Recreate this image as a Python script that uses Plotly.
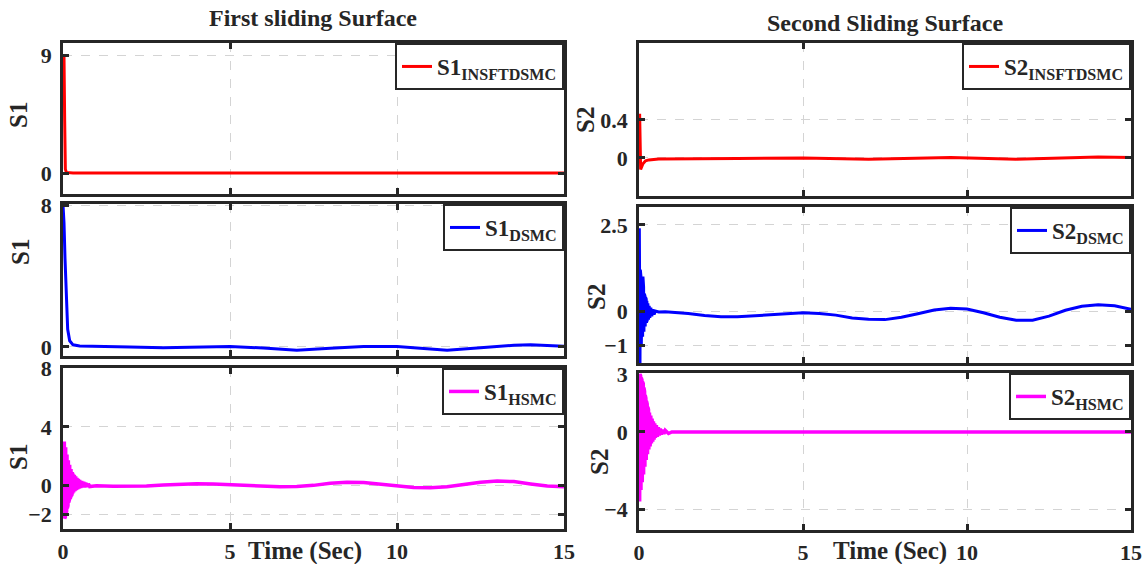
import plotly.graph_objects as go

FONT = "Liberation Serif, Times New Roman, serif"
AX = "#262626"
GRID = "#d4d4d4"

# ---------------- data ----------------
# First sliding surface, INSFTDSMC (red)
t_s1_insft = [0, 0.03, 0.05, 0.07, 0.1, 0.3, 1, 3, 5, 7, 9, 11, 13, 15]
s1_insft = [9.0, 8.9, 4.0, 0.3, 0.05, 0.0, 0.0, 0.0, 0.0, -0.02, 0.0, -0.02, 0.01, 0.0]

# Second sliding surface, INSFTDSMC (red)
t_s2_insft = [0, 0.02, 0.05, 0.08, 0.12, 0.2, 0.3, 0.6, 1.5, 3, 5, 7, 9.5, 11.5, 14, 15]
s2_insft = [0.45, 0.45, -0.12, -0.1, -0.06, -0.03, -0.02, -0.01, -0.01, -0.005, 0.0, -0.012,
            0.005, -0.012, 0.01, 0.005]

# First sliding surface, DSMC (blue)
t_s1_dsmc = [0, 0.03, 0.06, 0.1, 0.14, 0.2, 0.3, 0.5, 1, 2, 3, 4, 5, 6, 7, 8, 9, 10,
             11, 11.5, 12.5, 13.5, 14, 15]
s1_dsmc = [8.0, 7.0, 5.0, 2.5, 1.0, 0.35, 0.12, 0.06, 0.05, 0.0, -0.05, -0.01, 0.02,
           -0.06, -0.18, -0.08, 0.02, 0.02, -0.12, -0.18, -0.05, 0.1, 0.12, 0.04]

# Second sliding surface, DSMC (blue)
t_s2_dsmc = [0, 0.01, 0.02, 0.03, 0.04, 0.05, 0.06, 0.07, 0.08, 0.09, 0.10, 0.11, 0.12,
             0.13, 0.14, 0.15, 0.16, 0.17, 0.18, 0.19, 0.20, 0.21, 0.22, 0.23, 0.24, 0.25,
             0.27, 0.29, 0.31, 0.33, 0.36, 0.39, 0.42, 0.46, 0.5, 0.6, 0.8, 1.0, 1.5, 2.0,
             2.5, 3.0, 3.5, 4.0, 4.5, 5.0, 5.5, 6.0, 6.5, 7.0, 7.5, 8.0, 8.5, 9.0, 9.5,
             10.0, 10.5, 11.0, 11.5, 12.0, 12.5, 13.0, 13.5, 14.0, 14.5, 15.0]
s2_dsmc = [0.2, 2.4, 0.5, -1.6, 1.2, -1.55, 1.0, -1.0, 1.0, -0.8, 1.0, -0.75, 1.0,
           -0.7, 0.7, -0.6, 0.5, -0.5, 0.45, -0.45, 0.4, -0.4, 0.35, -0.35, 0.3, -0.3,
           0.22, -0.25, 0.15, -0.2, 0.1, -0.15, 0.05, -0.1, 0.0, -0.03, -0.02, -0.03,
           -0.07, -0.13, -0.17, -0.17, -0.14, -0.1, -0.06, -0.05, -0.07, -0.12, -0.2,
           -0.24, -0.25, -0.18, -0.08, 0.03, 0.08, 0.06, -0.05, -0.18, -0.27, -0.27,
           -0.15, 0.02, 0.14, 0.18, 0.15, 0.05]

# First sliding surface, HSMC (magenta)
t_s1_hsmc = [0, 0.01, 0.02, 0.03, 0.04, 0.05, 0.06, 0.07, 0.08, 0.09, 0.10, 0.11, 0.12,
             0.13, 0.14, 0.15, 0.16, 0.17, 0.18, 0.19, 0.20, 0.21, 0.22, 0.23, 0.24, 0.25,
             0.26, 0.27, 0.28, 0.29, 0.30, 0.32, 0.34, 0.36, 0.38, 0.40, 0.42, 0.44, 0.46,
             0.48, 0.50, 0.53, 0.56, 0.59, 0.62, 0.65, 0.68, 0.72, 0.76, 0.8, 1.0, 1.5,
             2.0, 2.5, 3.0, 3.5, 4.0, 4.5, 5.0, 5.5, 6.0, 6.5, 7.0, 7.5, 8.0, 8.5, 9.0,
             9.5, 10.0, 10.5, 11.0, 11.5, 12.0, 12.5, 13.0, 13.5, 14.0, 14.5, 15.0]
s1_hsmc = [2.0, -1.0, 2.8, -2.0, 3.0, -2.3, 2.8, -2.2, 2.6, -2.0, 2.3, -1.8, 2.1,
           -1.6, 1.9, -1.4, 1.7, -1.2, 1.55, -1.05, 1.4, -0.95, 1.25, -0.85, 1.1, -0.75,
           1.0, -0.65, 0.9, -0.6, 0.8, -0.5, 0.7, -0.42, 0.6, -0.35, 0.5, -0.3, 0.42,
           -0.25, 0.35, -0.2, 0.28, -0.17, 0.22, -0.15, 0.15, -0.12, 0.08, -0.1, -0.05,
           -0.08, -0.1, -0.06, 0.0, 0.05, 0.09, 0.07, 0.03, -0.04, -0.1, -0.12, -0.1,
           -0.02, 0.12, 0.2, 0.17, 0.06, -0.08, -0.17, -0.18, -0.12, 0.04, 0.2, 0.28,
           0.24, 0.08, -0.06, -0.12]

# Second sliding surface, HSMC (magenta)
t_s2_hsmc = [0, 0.01, 0.02, 0.03, 0.04, 0.05, 0.06, 0.07, 0.08, 0.09, 0.10, 0.11, 0.12,
             0.13, 0.14, 0.15, 0.16, 0.17, 0.18, 0.19, 0.20, 0.21, 0.22, 0.23, 0.24, 0.25,
             0.26, 0.27, 0.28, 0.29, 0.30, 0.32, 0.34, 0.36, 0.38, 0.40, 0.42, 0.44, 0.46,
             0.48, 0.50, 0.53, 0.56, 0.59, 0.62, 0.65, 0.68, 0.72, 0.76, 0.8, 0.9, 1.0,
             2.0, 3.0, 4.0, 5.0, 6.0, 7.0, 8.0, 9.0, 10.0, 11.0, 12.0, 13.0, 14.0, 15.0]
s2_hsmc = [0.0, 2.6, -3.6, 3.0, -3.3, 2.9, -3.0, 2.8, -2.8, 2.7, -2.6, 2.6, -2.4,
           2.5, -2.2, 2.3, -2.0, 2.1, -1.8, 1.9, -1.6, 1.75, -1.45, 1.6, -1.3, 1.45,
           -1.15, 1.3, -1.0, 1.15, -0.9, 1.0, -0.75, 0.85, -0.6, 0.7, -0.5, 0.55, -0.4,
           0.45, -0.3, 0.35, -0.25, 0.25, -0.18, 0.18, -0.13, 0.12, -0.1, 0.08, -0.08,
           0.0, 0.0, 0.0, 0.0, 0.0, 0.0, 0.0, 0.0, 0.0, 0.0, 0.0, 0.0, 0.0, 0.0, 0.0]

x_ticks = [0, 5, 10, 15]
titles = ["First sliding Surface", "Second Sliding Surface"]
y_labels = ["S1", "S2"]
x_label = "Time (Sec)"

# ---------------- layout helpers ----------------
W, H = 1145, 564

def px_x(p):
    return p / W

def px_y(p):
    return 1 - p / H

panels = [
    ("S1 INSFTDSMC", t_s1_insft, s1_insft, "#FF0000", "S1<sub>INSFTDSMC</sub>", (63, 564), (43, 194), [-1.6, 9.92], [0, 9], False),
    ("S2 INSFTDSMC", t_s2_insft, s2_insft, "#FF0000", "S2<sub>INSFTDSMC</sub>", (639, 1131), (43, 196), [-0.4, 1.21], [0, 0.4], False),
    ("S1 DSMC", t_s1_dsmc, s1_dsmc, "#0000FF", "S1<sub>DSMC</sub>", (63, 564), (204, 356), [-0.51, 8.06], [0, 8], False),
    ("S2 DSMC", t_s2_dsmc, s2_dsmc, "#0000FF", "S2<sub>DSMC</sub>", (639, 1131), (207, 363), [-1.51, 3.02], [-1, 0, 2.5], False),
    ("S1 HSMC", t_s1_hsmc, s1_hsmc, "#FF00FF", "S1<sub>HSMC</sub>", (63, 564), (368, 529), [-3.02, 8.05], [-2, 0, 4, 8], True),
    ("S2 HSMC", t_s2_hsmc, s2_hsmc, "#FF00FF", "S2<sub>HSMC</sub>", (639, 1131), (373, 530), [-5.07, 3.05], [-4, 0, 3], True),
]

fig = go.Figure()
layout = dict(
    width=W, height=H,
    margin=dict(l=0, r=0, t=0, b=0, pad=0, autoexpand=False),
    paper_bgcolor="white", plot_bgcolor="white",
    font=dict(family=FONT, color=AX, size=20, weight="bold"),
    showlegend=True,
)

for i, (name, t, y, color, ltxt, xd, yd, yr, yt, showx) in enumerate(panels):
    k = "" if i == 0 else str(i + 1)
    lg = "legend" + k
    fig.add_trace(go.Scatter(
        x=t, y=y, mode="lines", name=ltxt,
        line=dict(color=color, width=3.5 if "HSMC" in name else 3),
        xaxis="x" + k, yaxis="y" + k, legend=lg,
    ))
    xdom = [px_x(xd[0]), px_x(xd[1])]
    ydom = [px_y(yd[1]), px_y(yd[0])]
    common = dict(
        showline=True, linewidth=2.5, linecolor=AX, mirror="ticks",
        ticks="inside", ticklen=6, tickwidth=2.5, tickcolor=AX,
        showgrid=True, gridcolor=GRID, griddash="dash", gridwidth=1.3,
        zeroline=False, automargin=False,
        tickfont=dict(family=FONT, size=22, color=AX, weight="bold"),
    )
    layout["xaxis" + k] = dict(
        domain=xdom, range=[0, 15], tickvals=x_ticks,
        showticklabels=showx, anchor="y" + k, ticklabelstandoff=1, **common)
    layout["yaxis" + k] = dict(
        domain=ydom, range=yr, tickvals=yt, anchor="x" + k,
        ticklabelstandoff=4, **common)
    layout[lg] = dict(
        x=xdom[1], y=ydom[1], xanchor="right", yanchor="top",
        bgcolor="white", bordercolor=AX, borderwidth=2,
        font=dict(family=FONT, size=23, color=AX, weight="bold"),
        itemwidth=30, tracegroupgap=0,
    )

ann = []
ann.append(dict(text=titles[0], x=px_x(313), y=px_y(18), font_size=24))
ann.append(dict(text=titles[1], x=px_x(885), y=px_y(23), font_size=24))
for (xx, yy, txt) in [(18, 115, y_labels[0]), (20, 252, y_labels[0]), (18, 457, y_labels[0]),
                      (586, 120, y_labels[1]), (596, 297, y_labels[1]), (599, 462, y_labels[1])]:
    ann.append(dict(text=txt, x=px_x(xx), y=px_y(yy), textangle=-90, font_size=25))
ann.append(dict(text=x_label, x=px_x(305), y=px_y(551), font_size=25))
ann.append(dict(text=x_label, x=px_x(890), y=px_y(551), font_size=25))

annotations = []
for a in ann:
    fs = a.pop("font_size", 22)
    base = dict(xref="paper", yref="paper", showarrow=False,
                xanchor="center", yanchor="middle",
                font=dict(family=FONT, size=fs, color=AX, weight="bold"))
    base.update(a)
    annotations.append(base)
layout["annotations"] = annotations

fig.update_layout(**layout)
# remove the default page margin so the figure fills the 1145x564 window exactly
fig.write_html(
    "out.html",
    config={"displayModeBar": False},
    post_script="document.body.style.margin='0';document.body.style.overflow='hidden';",
)
